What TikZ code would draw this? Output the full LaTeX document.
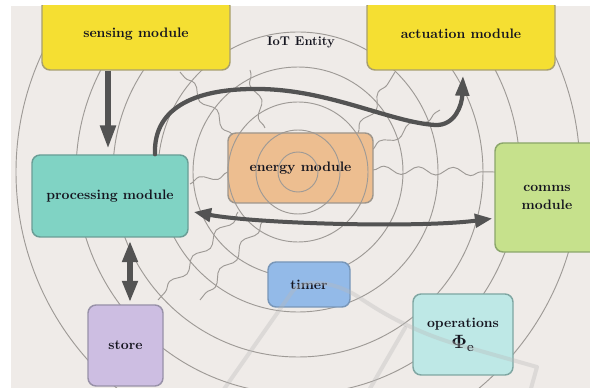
\documentclass[tikz,border=0pt]{standalone}
\usetikzlibrary{arrows.meta,calc,decorations.pathmorphing}
\definecolor{bgcol}{HTML}{EFEBE8}
\definecolor{ringcol}{HTML}{9E9A96}
\definecolor{arrowcol}{HTML}{535353}
\definecolor{txtcol}{HTML}{15151F}
\definecolor{yelfill}{HTML}{F5DF32}
\definecolor{yeldraw}{HTML}{A89F6E}
\definecolor{tealfill}{HTML}{80D3C4}
\definecolor{tealdraw}{HTML}{6A9E96}
\definecolor{orgfill}{HTML}{EDBE90}
\definecolor{orgdraw}{HTML}{9E968C}
\definecolor{grnfill}{HTML}{C6E18C}
\definecolor{grndraw}{HTML}{8BA66A}
\definecolor{blufill}{HTML}{93BAE8}
\definecolor{bludraw}{HTML}{7896B8}
\definecolor{purfill}{HTML}{CDBEE2}
\definecolor{purdraw}{HTML}{9891A8}
\definecolor{cyafill}{HTML}{BEE8E6}
\definecolor{cyadraw}{HTML}{7FA6A2}
\begin{document}
\begin{tikzpicture}[x=0.75pt,y=-0.75pt,
  ring/.style={draw=ringcol, line width=0.7pt},
  wave/.style={draw=ringcol, line width=0.7pt, decorate,
    decoration={snake, segment length=26pt, amplitude=3pt}},
  faint/.style={draw=gray!55!white, line width=3pt, opacity=0.35, line cap=round, line join=round},
  box/.style={rounded corners=6pt, line width=1.1pt, inner sep=2pt, align=center,
    text=txtcol, font=\bfseries\fontsize{10.3}{13}\selectfont},
  fat/.style={draw=arrowcol, line width=4.5pt,
    -{Triangle[length=18pt,width=11pt]}},
  fatboth/.style={draw=arrowcol, line width=4.5pt,
    {Triangle[length=16pt,width=11pt]}-{Triangle[length=16pt,width=11pt]}},
  flow/.style={draw=arrowcol, line width=3.2pt, line cap=round,
    -{Triangle[length=15pt,width=10pt]}},
  flowboth/.style={draw=arrowcol, line width=3pt,
    {Triangle[length=13pt,width=10pt]}-{Triangle[length=13pt,width=10pt]}}]
\useasboundingbox (0,0) rectangle (590,388);
\fill[bgcol] (11,6) rectangle (590,388);
\begin{scope}
  \clip (11,6) rectangle (590,388);
  % concentric rings around the energy source
  \foreach \r in {20,42,70,105,140,185,222,282}
    \draw[ring] (298,172) circle[radius=\r];
  % wavy field lines
  \draw[wave] (190,184) -- (228,172);
  \draw[wave] (373,170) -- (495,172);
  \draw[wave] (238,212) -- (158,300);
  \draw[wave] (262,222) -- (200,300);
  \draw[wave] (232,134) -- (180,72);
  \draw[wave] (265,128) -- (250,70);
  \draw[wave] (358,133) -- (395,72);
  \draw[wave] (372,150) -- (440,110);

  % modules
  \node[box, fill=yelfill, draw=yeldraw, minimum width=141pt, minimum height=54pt]
    (sense) at (136,34) {sensing module};
  \node[box, fill=yelfill, draw=yeldraw, minimum width=141pt, minimum height=54pt]
    (act) at (461,34) {actuation module};
  \node[box, fill=tealfill, draw=tealdraw, minimum width=117pt, minimum height=61.5pt]
    (proc) at (110,196) {processing module};
  \node[box, fill=orgfill, draw=orgdraw, minimum width=108.75pt, minimum height=52.5pt]
    (energy) at (300.5,168) {energy module};
  \node[box, fill=grnfill, draw=grndraw, minimum width=78pt, minimum height=81.75pt]
    (comms) at (547,197.5) {comms\\module};
  \node[box, fill=blufill, draw=bludraw, minimum width=61.5pt, minimum height=33.75pt]
    (timer) at (309,284.5) {timer};
  \node[box, fill=purfill, draw=purdraw, minimum width=56.25pt, minimum height=60.75pt]
    (store) at (125.5,345.5) {store};
  \node[box, fill=cyafill, draw=cyadraw, minimum width=75pt, minimum height=60.75pt]
    (ops) at (463,334.5) {operations\\[3pt]{\Large\boldmath$\Phi_{\mathbf{e}}$}};
  \node[text=txtcol, font=\bfseries\fontsize{9.5}{11}\selectfont] (entity) at (301,42) {IoT Entity};

  % inner rings seen through the energy module
  \begin{scope}
    \clip[rounded corners=6pt] (energy.south west) rectangle (energy.north east);
    \foreach \r in {20,42,70}
      \draw[ring] (298,172) circle[radius=\r];
  \end{scope}

  % faint background strokes
  \draw[faint] (222,392) -- (292,292) .. controls (300,280) and (330,278) .. (360,298)
    .. controls (385,315) and (420,335) .. (470,348) -- (537,367) -- (530,392);
  \draw[faint] (368,392) -- (405,328);

  % connections
  \draw[fat] ($(sense.south)+(-28,0)$) -- ($(proc.north)+(-2,-5)$);
  \draw[flow] ($(proc.north)+(45,0)$) .. controls (153,105) and (200,88) .. (260,89)
    .. controls (330,90) and (390,122) .. (435,125)
    .. controls (455,126) and (462,105) .. ($(act.south)+(2,5)$);
  \draw[flowboth] ($(proc.east)+(5,16)$) .. controls (260,224) and (420,228) .. ($(comms.west)+(-2,21)$);
  \draw[fatboth] ($(proc.south)+(20,3)$) -- ($(store.north)+(4.5,-2)$);
\end{scope}
\end{tikzpicture}
\end{document}
